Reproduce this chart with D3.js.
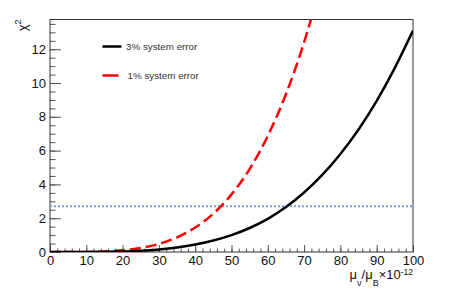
<!DOCTYPE html>
<html>
<head>
<meta charset="utf-8">
<title>chi2 vs magnetic moment</title>
<script src="https://d3js.org/d3.v7.min.js"></script>
<style>
  body { margin: 0; background: #fff; }
  svg text { font-family: "Liberation Sans", Arial, Helvetica, sans-serif; }
</style>
</head>
<body>
<div id="chart"></div>
<script>
// ---- data ----
const muValues = [0, 5, 10, 15, 20, 25, 30, 35, 40, 45, 50, 55, 60, 65, 70, 75, 80, 85, 90, 95, 100];
const chi2Err3 = [0, 0, 0.003, 0.012, 0.036, 0.08, 0.155, 0.27, 0.44, 0.68, 1.0, 1.42, 1.96, 2.66, 3.52, 4.56, 5.8, 7.25, 8.95, 10.9, 13.1];
const chi2Err1 = [0, 0.0005, 0.007, 0.034, 0.1, 0.24, 0.48, 0.87, 1.45, 2.27, 3.41, 4.91, 6.87, 9.34, 12.41, 16.17];
const thresholdChi2 = 2.71;
const xTicks = [0, 10, 20, 30, 40, 50, 60, 70, 80, 90, 100];
const yTicks = [0, 2, 4, 6, 8, 10, 12];
const legendLabels = ["3% system error", "1% system error"];

const width = 454, height = 291;
const frame = {left: 50, right: 413, top: 19.5, bottom: 252};

const svg = d3.select("#chart").append("svg")
    .attr("width", width)
    .attr("height", height);

const x = d3.scaleLinear().domain([0, 100]).range([frame.left, frame.right]);
const y = d3.scaleLinear().domain([0, 13.76]).range([frame.bottom, frame.top]);

// clip for curves
svg.append("clipPath").attr("id", "clip")
  .append("rect")
    .attr("x", frame.left).attr("y", frame.top)
    .attr("width", frame.right - frame.left)
    .attr("height", frame.bottom - frame.top);

// ---- axes ----
const xMinor = d3.axisBottom(x).tickValues(d3.range(0, 101, 2)).tickSize(-3.5).tickFormat("");
const xMajor = d3.axisBottom(x).tickValues(xTicks).tickSize(-7).tickPadding(3.5);
const yMinor = d3.axisLeft(y).tickValues(d3.range(0, 13.6, 0.5)).tickSize(-5.5).tickFormat("");
const yMajor = d3.axisLeft(y).tickValues(yTicks).tickSize(-11).tickPadding(4);

function styleAxis(g) {
  g.select(".domain").remove();
  g.selectAll(".tick line").attr("stroke", "#555").attr("stroke-width", 1);
  g.selectAll(".tick text").attr("fill", "#111").style("font-size", "13px");
}

svg.append("g").attr("transform", `translate(0,${frame.bottom})`).call(xMinor).call(styleAxis);
svg.append("g").attr("transform", `translate(0,${frame.bottom})`).call(xMajor).call(styleAxis);
svg.append("g").attr("transform", `translate(${frame.left},0)`).call(yMinor).call(styleAxis);
svg.append("g").attr("transform", `translate(${frame.left},0)`).call(yMajor).call(styleAxis);

// frame
svg.append("rect")
    .attr("x", frame.left).attr("y", frame.top)
    .attr("width", frame.right - frame.left)
    .attr("height", frame.bottom - frame.top)
    .attr("fill", "none")
    .attr("stroke", "#333")
    .attr("stroke-width", 1);

// ---- curves ----
const line = d3.line()
    .x(d => x(d[0]))
    .y(d => y(d[1]));

const curves = svg.append("g").attr("clip-path", "url(#clip)");

curves.append("path")
    .datum([[muValues[0], thresholdChi2], [muValues[muValues.length - 1], thresholdChi2]])
    .attr("d", line)
    .attr("fill", "none")
    .attr("stroke", "#7b9de0")
    .attr("stroke-width", 2)
    .attr("stroke-dasharray", "2,2");

const smooth = d3.line()
    .x(d => x(d[0]))
    .y(d => y(d[1]))
    .curve(d3.curveMonotoneX);

curves.append("path")
    .datum(chi2Err1.map((c, i) => [muValues[i], c]))
    .attr("d", smooth)
    .attr("fill", "none")
    .attr("stroke", "#ff0000")
    .attr("stroke-width", 2.5)
    .attr("stroke-dasharray", "11,5");

curves.append("path")
    .datum(chi2Err3.map((c, i) => [muValues[i], c]))
    .attr("d", smooth)
    .attr("fill", "none")
    .attr("stroke", "#000")
    .attr("stroke-width", 2.5);

// ---- legend ----
const legend = svg.append("g");
const legendRows = [
  {label: legendLabels[0], color: "#000", y: 46.5, x1: 102.5, x2: 121.5, tx: 126},
  {label: legendLabels[1], color: "#ff0000", y: 75.5, x1: 102.5, x2: 118.5, tx: 127.5}
];
legendRows.forEach(r => {
  legend.append("line")
      .attr("x1", r.x1).attr("x2", r.x2)
      .attr("y1", r.y).attr("y2", r.y)
      .attr("stroke", r.color)
      .attr("stroke-width", 2.5);
  legend.append("text")
      .attr("x", r.tx).attr("y", r.y + 3.5)
      .attr("fill", "#333")
      .style("font-size", "9.8px")
      .text(r.label);
});

// ---- axis titles ----
const xt = svg.append("text")
    .attr("x", frame.right)
    .attr("y", 279)
    .attr("text-anchor", "end")
    .attr("fill", "#111")
    .style("font-size", "13px");
xt.append("tspan").text("μ");
xt.append("tspan").attr("dy", 7).style("font-size", "9px").text("ν");
xt.append("tspan").attr("dy", -7).text("/μ");
xt.append("tspan").attr("dy", 7).style("font-size", "9px").text("B");
xt.append("tspan").attr("dy", -7).text("×10");
xt.append("tspan").attr("dy", -4).style("font-size", "8.5px").text("-12");

const yt = svg.append("text")
    .attr("transform", `translate(27,${frame.top}) rotate(-90)`)
    .attr("text-anchor", "end")
    .attr("fill", "#111")
    .style("font-size", "13px");
yt.append("tspan").text("χ");
yt.append("tspan").attr("dy", -6).style("font-size", "9px").text("2");
</script>
</body>
</html>
